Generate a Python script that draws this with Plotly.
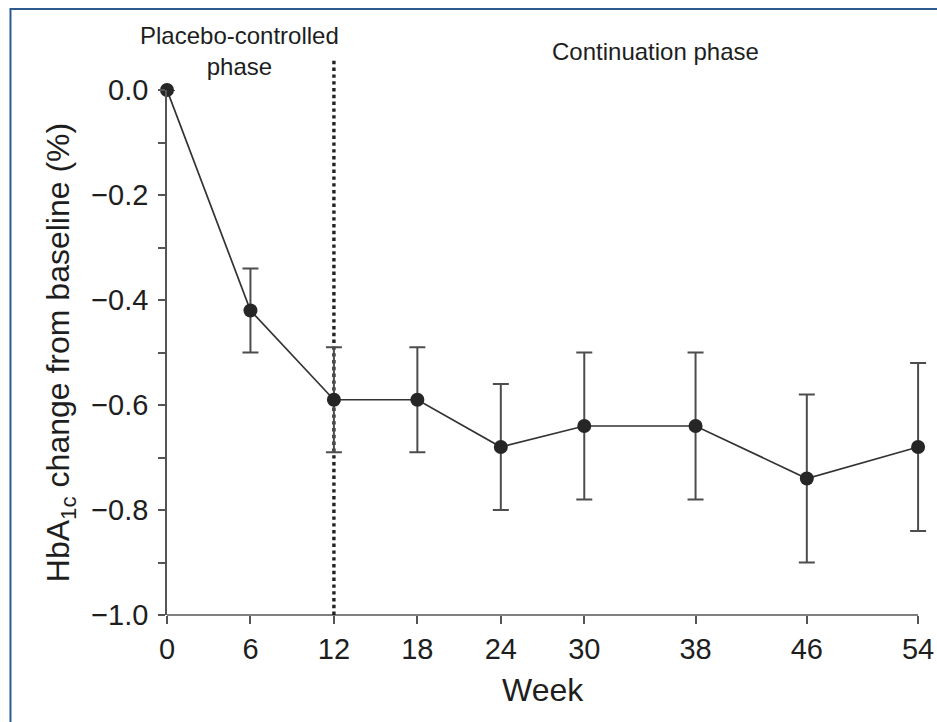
import plotly.graph_objects as go

# HbA1c change from baseline by study week (mean with error bars)
weeks = [0, 6, 12, 18, 24, 30, 38, 46, 54]
hba1c_change = [0.0, -0.42, -0.59, -0.59, -0.68, -0.64, -0.64, -0.74, -0.68]
err_upper = [0.0, 0.08, 0.10, 0.10, 0.12, 0.14, 0.14, 0.16, 0.16]
err_lower = [0.0, 0.08, 0.10, 0.10, 0.12, 0.14, 0.14, 0.16, 0.16]
y_tickvals = [0.0, -0.2, -0.4, -0.6, -0.8, -1.0]
y_ticktext = ["0.0", "\u22120.2", "\u22120.4", "\u22120.6", "\u22120.8", "\u22121.0"]
phase_split_week = 12

W, H = 937, 722
# x range is padded a little past the last week so end caps are not clipped
X_VIEW_MAX = 55
ML, MT, MB = 167, 90, 107
PX_PER_WEEK = (918 - ML) / 54
PW = PX_PER_WEEK * X_VIEW_MAX
MR = W - ML - PW
PH = H - MT - MB


def px_x(p):
    return (p - ML) / PW


def px_y(p):
    return (H - MB - p) / PH


FONT = "Arial, Liberation Sans, Helvetica, sans-serif"
TXT = "#1e1e1e"
AX = "#555555"

fig = go.Figure()

fig.add_trace(go.Scatter(
    x=weeks,
    y=hba1c_change,
    mode="lines+markers",
    line=dict(color="#333333", width=1.7),
    marker=dict(size=14, color="#262626"),
    error_y=dict(
        type="data",
        symmetric=False,
        array=err_upper,
        arrayminus=err_lower,
        color="#4d4d4d",
        thickness=2,
        width=8,
    ),
    cliponaxis=False,
    showlegend=False,
))

# x axis baseline spanning week 0 to the last week
fig.add_shape(
    type="line",
    xref="x", yref="paper",
    x0=weeks[0], x1=weeks[-1],
    y0=0, y1=0,
    line=dict(color=AX, width=1.5),
    layer="below",
)

# Boundary between placebo-controlled and continuation phases
fig.add_shape(
    type="line",
    xref="x", yref="paper",
    x0=phase_split_week, x1=phase_split_week,
    y0=0, y1=px_y(60),
    line=dict(color="#222222", width=3.4, dash="dot"),
    layer="below",
)

# Frame around the figure
fig.add_shape(
    type="rect",
    xref="paper", yref="paper",
    x0=px_x(10.5), x1=px_x(960),
    y0=px_y(740), y1=px_y(9),
    line=dict(color="#2d5b8e", width=2),
    fillcolor="rgba(0,0,0,0)",
)

fig.add_annotation(
    text="Placebo-controlled<br>phase",
    xref="paper", yref="paper",
    x=px_x(239), y=px_y(51),
    xanchor="center", yanchor="middle",
    showarrow=False,
    font=dict(family=FONT, size=24, color=TXT),
    align="center",
)
fig.add_annotation(
    text="Continuation phase",
    xref="paper", yref="paper",
    x=px_x(655), y=px_y(52),
    xanchor="center", yanchor="middle",
    showarrow=False,
    font=dict(family=FONT, size=24, color=TXT),
)

fig.add_annotation(
    text="Week",
    xref="paper", yref="paper",
    x=px_x((ML + 918) / 2), y=px_y(690),
    xanchor="center", yanchor="middle",
    showarrow=False,
    font=dict(family=FONT, size=32, color=TXT),
)

fig.update_layout(
    width=W, height=H,
    margin=dict(l=ML, r=MR, t=MT, b=MB),
    paper_bgcolor="white",
    plot_bgcolor="white",
    font=dict(family=FONT, color=TXT),
    xaxis=dict(
        range=[0, X_VIEW_MAX],
        automargin=False,
        tickvals=weeks,
        ticktext=[str(w) for w in weeks],
        ticks="outside",
        ticklen=8,
        tickwidth=1.5,
        tickcolor=AX,
        showline=False,
        showgrid=False,
        zeroline=False,
        tickfont=dict(family=FONT, size=29, color=TXT),
    ),
    yaxis=dict(
        range=[-1.0, 0.0],
        automargin=False,
        tickvals=y_tickvals,
        ticktext=y_ticktext,
        ticks="outside",
        ticklen=7,
        tickwidth=1.5,
        tickcolor=AX,
        minor=dict(dtick=0.1, ticks="outside", ticklen=7, tickwidth=1.5, tickcolor=AX, showgrid=False),
        showline=True,
        linecolor=AX,
        linewidth=1.5,
        showgrid=False,
        zeroline=False,
        tickfont=dict(family=FONT, size=29, color=TXT),
        ticklabelstandoff=4,
        title=dict(
            text="HbA<sub>1c</sub> change from baseline (%)",
            font=dict(family=FONT, size=32, color=TXT),
            standoff=12,
        ),
    ),
)

fig.write_html("out.html")
